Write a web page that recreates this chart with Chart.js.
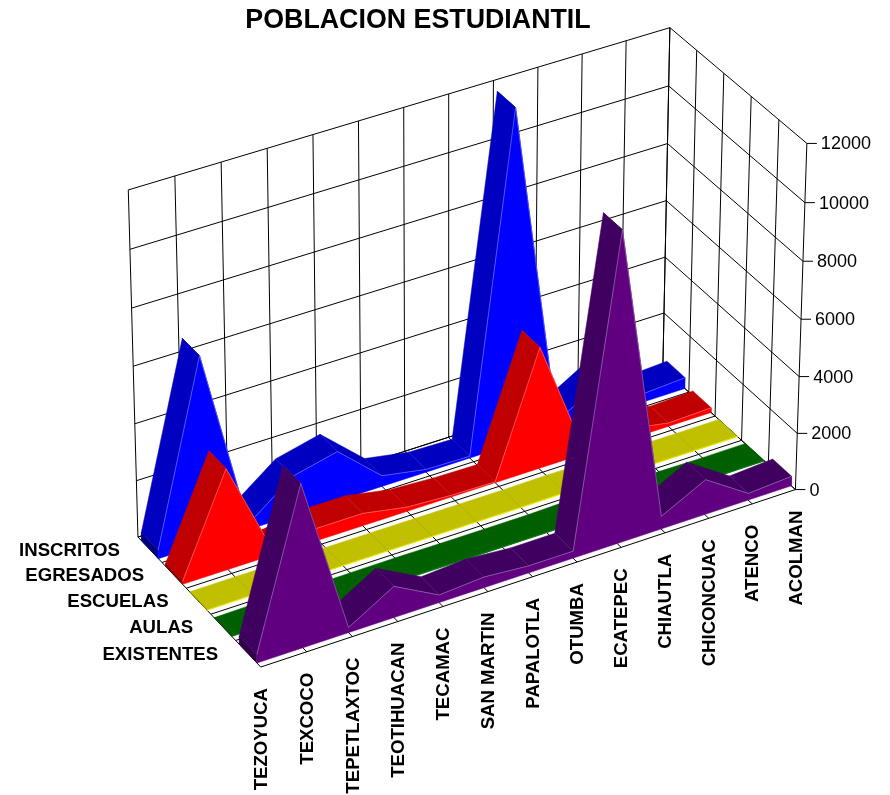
<!DOCTYPE html>
<html>
<head>
<meta charset="utf-8">
<title>POBLACION ESTUDIANTIL</title>
<script src="https://cdn.jsdelivr.net/npm/chart.js@4"></script>
<style>
    body { margin: 0; background: #fff; }
    #wrap { width: 890px; height: 795px; }
</style>
</head>
<body>
<div id="wrap"><canvas id="chart" width="890" height="795"></canvas></div>
<script>
const chartTitle = "POBLACION ESTUDIANTIL";
const categories = ["TEZOYUCA", "TEXCOCO", "TEPETLAXTOC", "TEOTIHUACAN", "TECAMAC", "SAN MARTIN", "PAPALOTLA", "OTUMBA", "ECATEPEC", "CHIAUTLA", "CHICONCUAC", "ATENCO", "ACOLMAN"];
const seriesNames = ["INSCRITOS", "EGRESADOS", "ESCUELAS", "AULAS", "EXISTENTES"];
const valueTicks = [0, 2000, 4000, 6000, 8000, 10000, 12000];

const inscritos = [300, 6600, 200, 1380, 1750, 380, 100, 60, 11750, 300, 1200, 300, 390];
const egresados = [100, 3550, 150, 440, 440, 150, 60, 30, 4300, 300, 400, 120, 170];
const escuelas = [10, 20, 8, 12, 14, 12, 10, 8, 25, 10, 14, 8, 10];
const aulas = [20, 45, 15, 30, 35, 25, 20, 20, 60, 20, 30, 15, 20];
const existentes = [300, 5700, 180, 1100, 270, 380, 250, 250, 10850, 450, 1240, 240, 340];

const seriesValues = [inscritos, egresados, escuelas, aulas, existentes];
const faceColors = ["#0000ff", "#ff0000", "#ffff00", "#008000", "#600080"];
const topColors = ["#0000c0", "#c00000", "#c0c000", "#006000", "#400060"];
const capColors = ["#000080", "#800000", "#808000", "#004000", "#300048"];
const creaseColors = ["#5050d8", "#d85050", "#909000", "#004800", "#7858a0"];
const edgeColors = ["#8080ff", "#ff8080", "#d0d000", "#006818", "#a080c0"];

// Box corners as [x, depth, value] in 0..1 and where they land on the canvas
const boxCorners = [
    [0, 0, 0, 138, 537], [1, 0, 0, 662, 368], [0, 1, 0, 261, 667], [1, 1, 0, 796, 490],
    [0, 0, 1, 128, 190], [1, 0, 1, 671, 28], [1, 1, 1, 806, 143]
];

// Least squares fit of a 3x4 perspective matrix to the box corners
function fitCamera(corners) {
    const rows = [];
    corners.forEach(([x, d, v, u, w]) => {
        rows.push([x, d, v, 1, 0, 0, 0, 0, -u * x, -u * d, -u * v, u]);
        rows.push([0, 0, 0, 0, x, d, v, 1, -w * x, -w * d, -w * v, w]);
    });
    const n = 11;
    const m = [];
    for (let i = 0; i < n; i++) {
        m.push([]);
        for (let j = 0; j <= n; j++) {
            m[i].push(rows.reduce((sum, r) => sum + r[i] * r[j], 0));
        }
    }
    for (let c = 0; c < n; c++) {
        let best = c;
        for (let r = c + 1; r < n; r++) if (Math.abs(m[r][c]) > Math.abs(m[best][c])) best = r;
        [m[c], m[best]] = [m[best], m[c]];
        for (let r = 0; r < n; r++) {
            if (r === c) continue;
            const f = m[r][c] / m[c][c];
            for (let j = c; j <= n; j++) m[r][j] -= f * m[c][j];
        }
    }
    return m.map((row, i) => row[n] / row[i]);
}

const cam = fitCamera(boxCorners);
const maxValue = valueTicks[valueTicks.length - 1];
const lastCat = categories.length - 1;

// index along the categories, depth 0..1 from the back, value in data units
function project(index, depth, value) {
    const x = index / lastCat, v = value / maxValue;
    const q = cam[8] * x + cam[9] * depth + cam[10] * v + 1;
    return {
        x: (cam[0] * x + cam[1] * depth + cam[2] * v + cam[3]) / q,
        y: (cam[4] * x + cam[5] * depth + cam[6] * v + cam[7]) / q
    };
}

const paintList = [];

function addLine(points, color, width) {
    paintList.push({ data: points, showLine: true, fill: false, borderColor: color, borderWidth: width, pointRadius: 0, tension: 0 });
}

function addFace(points, color) {
    paintList.push({
        data: points.concat([points[0]]), showLine: true, fill: "shape", backgroundColor: color,
        borderColor: color, borderWidth: 0.5, pointRadius: 0, tension: 0
    });
}

// back wall, right wall and floor
const depthSteps = seriesNames.length;
const gridColor = "#000000";
valueTicks.forEach(t => {
    addLine([project(0, 0, t), project(lastCat, 0, t)], gridColor, 1);
    addLine([project(lastCat, 0, t), project(lastCat, 1, t)], gridColor, 1);
    addLine([project(lastCat, 1, t), (p => ({ x: p.x + 10, y: p.y }))(project(lastCat, 1, t))], gridColor, 1);
});
categories.forEach((c, i) => {
    addLine([project(i, 0, 0), project(i, 0, maxValue)], gridColor, 1);
    addLine([project(i, 0, 0), project(i, 1, 0)], gridColor, 1);
});
for (let d = 0; d <= depthSteps; d++) {
    addLine([project(0, d / depthSteps, 0), project(lastCat, d / depthSteps, 0)], gridColor, 1);
    addLine([project(lastCat, d / depthSteps, 0), project(lastCat, d / depthSteps, maxValue)], gridColor, 1);
}

// ribbons, back to front, each painted from the far end towards the first category
seriesValues.forEach((values, s) => {
    const back = (s + 0.15) / depthSteps;
    const front = (s + 0.85) / depthSteps;
    for (let i = lastCat - 1; i >= 0; i--) {
        addFace([project(i, back, values[i]), project(i + 1, back, values[i + 1]),
                 project(i + 1, front, values[i + 1]), project(i, front, values[i])], topColors[s]);
        if (i > 0) addLine([project(i, back, values[i]), project(i, front, values[i])], creaseColors[s], 0.6);
    }
    addFace([project(0, back, 0), project(0, front, 0), project(0, front, values[0]), project(0, back, values[0])], capColors[s]);
    const outline = values.map((v, i) => project(i, front, v));
    addFace([project(0, front, 0)].concat(outline, [project(lastCat, front, 0)]), faceColors[s]);
    addLine(outline, edgeColors[s], 0.6);
});

// first dataset in the list is painted first
paintList.forEach((ds, k) => { ds.order = paintList.length - k; });

const axisText = {
    id: "axisText",
    afterDraw(chart) {
        const ctx = chart.ctx;
        const sx = chart.scales.x, sy = chart.scales.y;
        const at = p => ({ x: sx.getPixelForValue(p.x), y: sy.getPixelForValue(p.y) });
        ctx.save();
        ctx.fillStyle = "#000";

        ctx.font = "bold 26.8px 'Liberation Sans', Arial, sans-serif";
        ctx.textAlign = "center";
        ctx.textBaseline = "middle";
        ctx.fillText(chartTitle, 418, 21);

        ctx.font = "18px 'Liberation Sans', Arial, sans-serif";
        ctx.textAlign = "left";
        valueTicks.forEach(t => {
            const p = at(project(lastCat, 1, t));
            ctx.fillText(String(t), p.x + 14, p.y + 1);
        });

        ctx.font = "bold 18.6px 'Liberation Sans', Arial, sans-serif";
        ctx.textAlign = "right";
        seriesNames.forEach((name, s) => {
            const p = at(project(0, (s + 0.5) / depthSteps, 0));
            ctx.fillText(name, p.x - 30, p.y + 1);
        });

        categories.forEach((name, i) => {
            const p = at(project(i, 1, 0));
            ctx.save();
            ctx.translate(p.x + 1, p.y + 21);
            ctx.rotate(-Math.PI / 2);
            ctx.fillText(name, 0, 0);
            ctx.restore();
        });
        ctx.restore();
    }
};

new Chart(document.getElementById("chart"), {
    type: "scatter",
    data: { datasets: paintList },
    options: {
        responsive: false,
        animation: false,
        events: [],
        layout: { padding: 0 },
        scales: {
            x: { type: "linear", min: 0, max: 890, display: false },
            y: { type: "linear", min: 0, max: 795, reverse: true, display: false }
        },
        plugins: { legend: { display: false }, tooltip: { enabled: false } }
    },
    plugins: [axisText]
});
</script>
</body>
</html>
